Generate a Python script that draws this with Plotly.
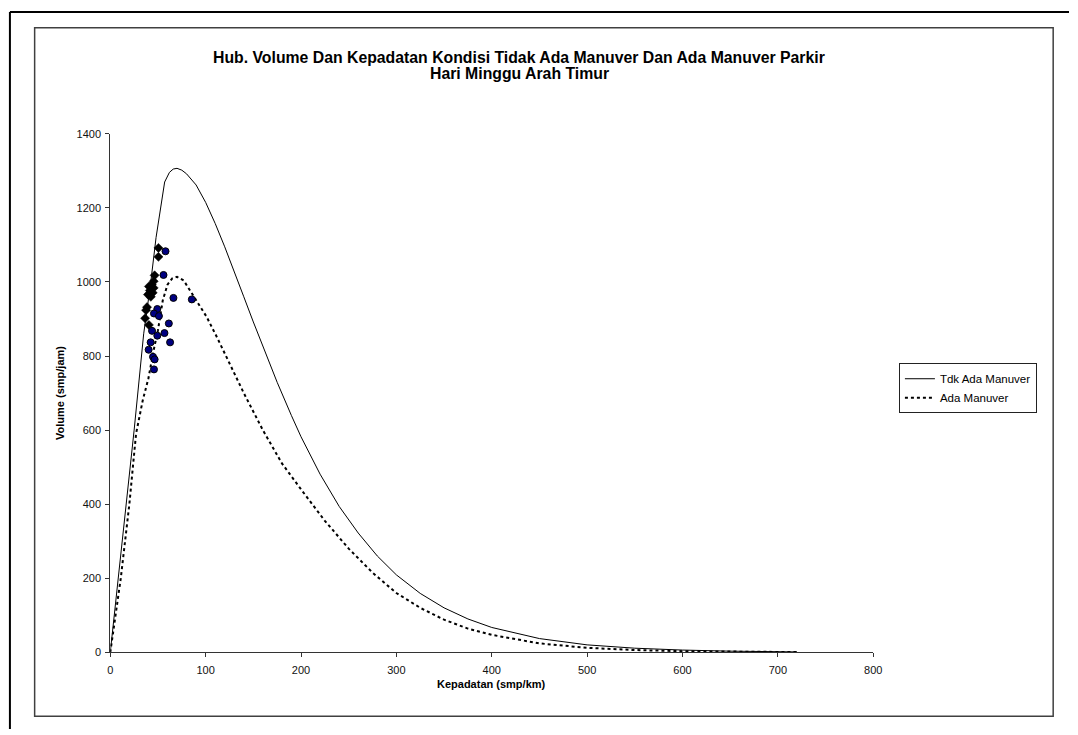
import plotly.graph_objects as go

W, H = 1078, 735

# ---- data ----
# Curve: Tdk Ada Manuver (no parking manoeuvre)
k_tdk = [0, 25, 35, 42, 48, 51, 54, 57, 62, 66, 70, 75, 80, 90, 100, 110, 120, 130,
         140, 150, 160, 175, 190, 200, 220, 240, 260, 280, 300, 325, 350, 375, 400,
         450, 500, 550, 600, 650, 720]
q_tdk = [0, 600, 860, 990, 1120, 1170, 1225, 1270, 1296, 1305, 1307, 1302, 1292, 1262,
         1215, 1158, 1095, 1030, 960, 892, 825, 729, 639, 582, 481, 394, 322, 260, 209,
         159, 120, 90, 67, 37, 20, 11, 6, 3, 1]

# Curve: Ada Manuver (with parking manoeuvre)
k_ada = [0, 11, 20, 27, 34, 40, 45, 50, 55, 60, 65, 70, 77, 88, 101, 112, 125, 140,
         160, 180, 200, 225, 250, 275, 300, 325, 350, 375, 400, 450, 500, 550, 600,
         650, 720]
q_ada = [0, 200, 400, 590, 680, 740, 810, 870, 950, 993, 1010, 1014, 1004, 960, 906,
         850, 780, 700, 600, 510, 440, 355, 280, 215, 160, 120, 88, 64, 47, 24, 12, 6,
         3, 1.5, 0.5]

# Observed points, no manoeuvre (diamonds)
k_obs_tdk = [50.5, 50.5, 46.5, 45.5, 43.5, 40.5, 45.5, 41.5, 44.5, 39.5, 42.5, 38.5,
             37.5, 36.5, 40.5]
q_obs_tdk = [1092, 1068, 1018, 1002, 993, 988, 984, 977, 971, 966, 960, 932, 924,
             902, 884]

# Observed points, with manoeuvre (circles)
k_obs_ada = [57.9, 55.8, 66.2, 85.5, 49.3, 45.8, 51.0, 61.4, 43.8, 56.8, 49.3, 62.7,
             42.3, 40.2, 44.8, 46.5, 45.8]
q_obs_ada = [1083, 1019, 957, 953, 927, 915, 908, 888, 868, 862, 855, 837, 837, 817,
             798, 791, 764]

x_ticks = [0, 100, 200, 300, 400, 500, 600, 700, 800]
y_ticks = [0, 200, 400, 600, 800, 1000, 1200, 1400]

title_lines = ["Hub. Volume Dan Kepadatan Kondisi Tidak Ada Manuver Dan Ada Manuver Parkir",
               "Hari Minggu Arah Timur"]
x_title = "Kepadatan (smp/km)"
y_title = "Volume (smp/jam)"

FONT = "Liberation Sans, Arial, sans-serif"


def px(x):
    return x / W


def py(y):
    return 1 - y / H


fig = go.Figure()
fig.add_trace(go.Scatter(x=k_tdk, y=q_tdk, mode="lines", name="Tdk Ada Manuver",
                         line=dict(color="black", width=1)))
fig.add_trace(go.Scatter(x=k_ada, y=q_ada, mode="lines", name="Ada Manuver",
                         line=dict(color="black", width=2, dash="dot")))
fig.add_trace(go.Scatter(x=k_obs_tdk, y=q_obs_tdk, mode="markers", showlegend=False,
                         marker=dict(symbol="diamond", size=7, color="black",
                                     line=dict(color="black", width=0.5))))
fig.add_trace(go.Scatter(x=k_obs_ada, y=q_obs_ada, mode="markers", showlegend=False,
                         marker=dict(symbol="circle", size=7, color="#000080",
                                     line=dict(color="black", width=1))))

axis_common = dict(showgrid=False, zeroline=False, showline=True, linecolor="#333333",
                   linewidth=1, ticks="outside", ticklen=4, tickcolor="#333333",
                   tickfont=dict(family=FONT, size=11, color="#111111"))

fig.update_layout(
    width=W, height=H,
    margin=dict(l=0, r=0, t=0, b=0),
    paper_bgcolor="white", plot_bgcolor="white",
    xaxis=dict(range=[0, 800], tickvals=x_ticks, domain=[px(108.5), px(880)],
               ticklabelstandoff=4, **axis_common),
    yaxis=dict(range=[0, 1400], tickvals=y_ticks, domain=[py(657), py(130)],
               ticklabelstandoff=2, **axis_common),
    legend=dict(x=px(906), y=py(414), xanchor="left", yanchor="bottom",
                bordercolor="#222222", borderwidth=1, bgcolor="white",
                font=dict(family=FONT, size=11.5, color="black"),
                tracegroupgap=0),
    showlegend=True,
)

annotations = [
    dict(x=px(522), y=py(52), text="<b>" + title_lines[0] + "</b>", showarrow=False,
         xanchor="center", yanchor="middle",
         xref="paper", yref="paper", font=dict(family=FONT, size=15.8, color="black")),
    dict(x=px(522), y=py(69), text="<b>" + title_lines[1] + "</b>", showarrow=False,
         xanchor="center", yanchor="middle",
         xref="paper", yref="paper", font=dict(family=FONT, size=15.8, color="black")),
    dict(x=px(494), y=py(689), text="<b>" + x_title + "</b>", showarrow=False,
         xanchor="center", yanchor="middle",
         xref="paper", yref="paper", font=dict(family=FONT, size=11, color="black")),
    dict(x=px(57), y=py(393), text="<b>" + y_title + "</b>", showarrow=False,
         xanchor="center", yanchor="middle",
         textangle=-90, xref="paper", yref="paper",
         font=dict(family=FONT, size=11, color="black")),
]
fig.update_layout(annotations=annotations)

shapes = [
    dict(type="line", xref="paper", yref="paper", x0=px(7), y0=py(6), x1=px(1078),
         y1=py(6), line=dict(color="black", width=2)),
    dict(type="line", xref="paper", yref="paper", x0=px(7), y0=py(6), x1=px(7),
         y1=py(735), line=dict(color="black", width=2)),
    dict(type="rect", xref="paper", yref="paper", x0=px(32), y0=py(22), x1=px(1062),
         y1=py(722), line=dict(color="#404040", width=1.5)),
]
fig.update_layout(shapes=shapes)

fig.write_html("out.html")
